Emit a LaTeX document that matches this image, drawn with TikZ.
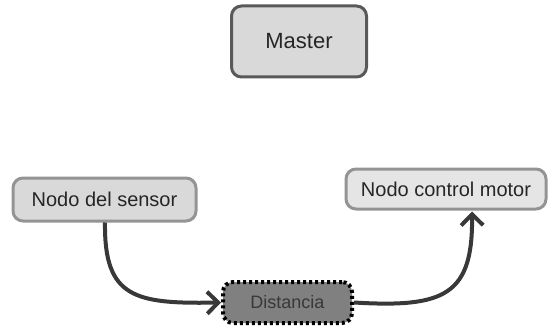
\documentclass[tikz,border=0pt]{standalone}
\usepackage{fontspec}
\setmainfont{Liberation Sans}
\usetikzlibrary{arrows.meta,calc}
\begin{document}
\begin{tikzpicture}[x=1pt,y=-1pt,
  box/.style={rounded corners=10pt, line width=3pt, inner sep=0pt, font=\fontsize{20}{24}\selectfont, text=black!85},
  masterbox/.style={box, draw=black!65, fill=black!15, font=\fontsize{22}{26}\selectfont},
  greybox/.style={box, draw=black!42, fill=black!15},
  lightbox/.style={box, draw=black!42, fill=black!10},
  databox/.style={rounded corners=10pt, draw=black, line width=4pt, dash pattern=on 3pt off 3pt,
    fill=black!50, text=black!78, inner sep=0pt, font=\fontsize{18}{22}\selectfont},
  flow/.style={draw=black!78, line width=4pt,
    -{Straight Barb[length=11pt,width=22pt,line width=4pt]}}]
\useasboundingbox (0,0) rectangle (552,329);

\node[masterbox, minimum width=135pt, minimum height=71pt] (master) at (299,41.5) {Master};
\node[greybox, minimum width=183pt, minimum height=43pt] (sensor) at (104.5,199.5) {Nodo del sensor};
\node[lightbox, minimum width=200pt, minimum height=40pt] (motor) at (446,189) {Nodo control motor};
\node[databox, minimum width=129pt, minimum height=41pt] (dist) at (287.5,302.5) {Distancia};

\coordinate (s0) at ($(sensor.south)+(0.5,0)$);
\coordinate (m0) at ($(motor.south)+(26,1)$);
\draw[flow] (s0) .. controls (104,298) and (135,304) .. (dist.west);
\draw[flow] (dist.east) .. controls (445,308) and (473,295) .. (m0);
\end{tikzpicture}
\end{document}
